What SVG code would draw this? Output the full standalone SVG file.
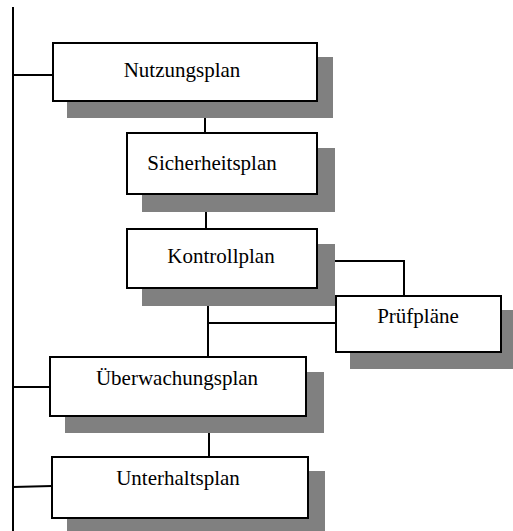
<svg xmlns="http://www.w3.org/2000/svg" width="513" height="531" viewBox="0 0 513 531">
<style>
.bg{fill:#ffffff}
.sh{fill:#808080;stroke:none}
.bx{fill:#ffffff;stroke:#000000;stroke-width:2}
.ln{fill:none;stroke:#000000;stroke-width:2}
.tx{font-size:21px;fill:#000000;text-anchor:middle}
</style>
<rect class="bg" x="0" y="0" width="513" height="531"/>
<g id="connectors">
<line class="ln" x1="13" y1="7" x2="13" y2="531"/>
<line class="ln" x1="13" y1="75" x2="53" y2="75"/>
<line class="ln" x1="205" y1="101" x2="205" y2="133"/>
<line class="ln" x1="206" y1="194" x2="206" y2="229"/>
<polyline class="ln" points="317,261 404,261 404,296"/>
<line class="ln" x1="208" y1="288" x2="208" y2="357"/>
<line class="ln" x1="208" y1="323" x2="336" y2="323"/>
<line class="ln" x1="13" y1="387" x2="50" y2="387"/>
<line class="ln" x1="209" y1="416" x2="209" y2="457"/>
<line class="ln" x1="13" y1="487" x2="52" y2="486"/>
</g>
<g font-family="'Liberation Serif', 'DejaVu Serif', serif">
<g id="nutzungsplan">
<rect class="sh" x="67" y="57" width="266" height="61"/>
<rect class="bx" x="53" y="43" width="264" height="58"/>
<text class="tx" x="182" y="77">Nutzungsplan</text>
</g>
<g id="sicherheitsplan">
<rect class="sh" x="142" y="148" width="193" height="64"/>
<rect class="bx" x="127" y="133" width="190" height="61"/>
<text class="tx" x="212" y="170">Sicherheitsplan</text>
</g>
<g id="kontrollplan">
<rect class="sh" x="142" y="244" width="193" height="62"/>
<rect class="bx" x="127" y="229" width="190" height="59"/>
<text class="tx" x="221" y="263">Kontrollplan</text>
</g>
<g id="pruefplaene">
<rect class="sh" x="350" y="310" width="163" height="59"/>
<rect class="bx" x="336" y="296" width="165" height="56"/>
<text class="tx" x="418" y="323">Prüfpläne</text>
</g>
<g id="ueberwachungsplan">
<rect class="sh" x="65" y="372" width="259" height="61"/>
<rect class="bx" x="50" y="357" width="256" height="59"/>
<text class="tx" x="177" y="385">Überwachungsplan</text>
</g>
<g id="unterhaltsplan">
<rect class="sh" x="67" y="471" width="258" height="60"/>
<rect class="bx" x="52" y="457" width="256" height="61"/>
<text class="tx" x="178" y="485">Unterhaltsplan</text>
</g>
</g>
</svg>
